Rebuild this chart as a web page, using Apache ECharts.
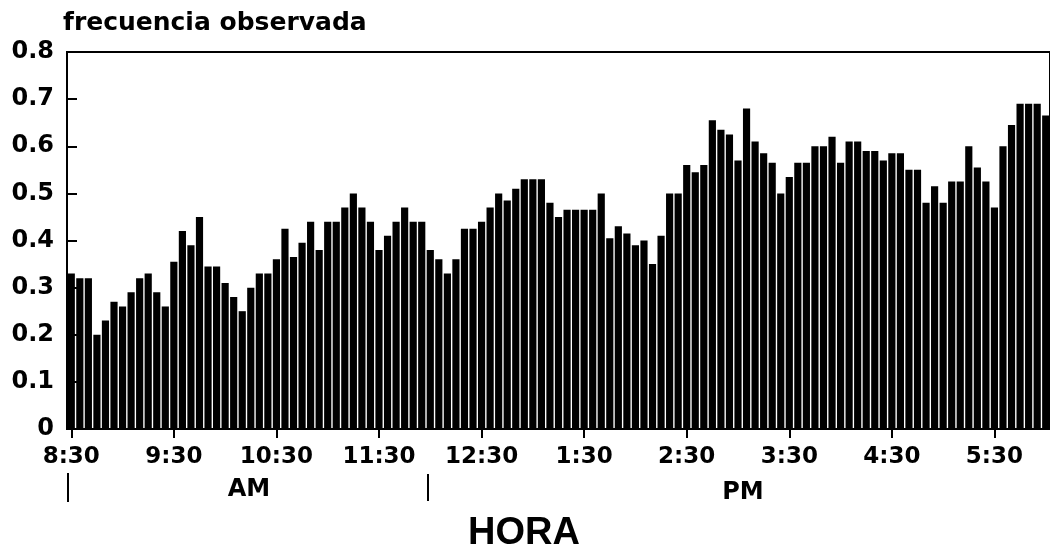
<!DOCTYPE html>
<html>
<head>
<meta charset="utf-8">
<script src="https://cdn.jsdelivr.net/npm/echarts@6/dist/echarts.min.js"></script>
<style>
html,body{margin:0;padding:0;background:#fff;}
#chart{width:1050px;height:551px;}
</style>
</head>
<body>
<div id="chart"></div>
<script>
// 5-minute slots from 8:30 AM to 6:00 PM
const tickLabels = ['8:30','9:30','10:30','11:30','12:30','1:30','2:30','3:30','4:30','5:30'];
const categories = [];
for (let m = 8*60+30; m <= 18*60; m += 5) {
  const h24 = Math.floor(m/60), mm = m % 60;
  const h12 = h24 > 12 ? h24 - 12 : h24;
  categories.push(h12 + ':' + (mm < 10 ? '0' + mm : mm));
}
// observed frequency per slot
const frecuencia = [
  0.33,0.32,0.32,0.20,0.23,0.27,0.26,0.29,0.32,0.33,0.29,0.26,
  0.355,0.42,0.39,0.45,0.345,0.345,0.31,0.28,0.25,0.30,0.33,0.33,
  0.36,0.425,0.365,0.395,0.44,0.38,0.44,0.44,0.47,0.50,0.47,0.44,
  0.38,0.41,0.44,0.47,0.44,0.44,0.38,0.36,0.33,0.36,0.425,0.425,
  0.44,0.47,0.50,0.485,0.51,0.53,0.53,0.53,0.48,0.45,0.465,0.465,
  0.465,0.465,0.50,0.405,0.43,0.415,0.39,0.40,0.35,0.41,0.50,0.50,
  0.56,0.545,0.56,0.655,0.635,0.625,0.57,0.68,0.61,0.585,0.565,0.50,
  0.535,0.565,0.565,0.60,0.60,0.62,0.565,0.61,0.61,0.59,0.59,0.57,
  0.585,0.585,0.55,0.55,0.48,0.515,0.48,0.525,0.525,0.60,0.555,0.525,
  0.47,0.60,0.645,0.69,0.69,0.69,0.665
];
const yTicks = ['0','0.1','0.2','0.3','0.4','0.5','0.6','0.7','0.8'];

const chart = echarts.init(document.getElementById('chart'), null, {renderer:'canvas'});
chart.setOption({
  backgroundColor:'#fff',
  animation:false,
  grid:{left:67, right:-6, top:52, bottom:122, show:true, borderColor:'#000', borderWidth:2, backgroundColor:'transparent'},
  xAxis:{
    type:'category',
    data:categories,
    boundaryGap:true,
    axisLine:{show:true, lineStyle:{color:'#000', width:2}},
    axisTick:{show:true, alignWithLabel:true, length:9, lineStyle:{color:'#000', width:2},
      interval:function(i){return i % 12 === 0;}},
    axisLabel:{
      interval:function(i){return i % 12 === 0;},
      margin:17,
      fontFamily:'DejaVu Sans', fontWeight:'bold', fontSize:23, color:'#000',
      formatter:function(v, i){return tickLabels[i/12] || '';}
    },
    splitLine:{show:false}
  },
  yAxis:{
    type:'value',
    min:0, max:0.8, interval:0.1,
    axisLine:{show:true, lineStyle:{color:'#000', width:2}},
    axisTick:{show:true, inside:true, length:10, lineStyle:{color:'#000', width:2}},
    axisLabel:{
      margin:13,
      fontFamily:'DejaVu Sans', fontWeight:'bold', fontSize:24, color:'#000',
      formatter:function(v){return yTicks[Math.round(v*10)];}
    },
    splitLine:{show:false}
  },
  series:[{
    type:'bar',
    data:frecuencia,
    barCategoryGap:'16%',
    itemStyle:{color:'#000'}
  }],
  graphic:[
    {type:'text', left:63, top:11, style:{text:'frecuencia observada', fontFamily:'DejaVu Sans', fontWeight:'bold', fontSize:25, fill:'#000'}},
    {type:'text', x:249, y:490, style:{text:'AM', fontFamily:'DejaVu Sans', fontWeight:'bold', fontSize:24, fill:'#000', align:'center', verticalAlign:'middle'}},
    {type:'text', x:743, y:493, style:{text:'PM', fontFamily:'DejaVu Sans', fontWeight:'bold', fontSize:24, fill:'#000', align:'center', verticalAlign:'middle'}},
    {type:'text', x:524, y:534, style:{text:'HORA', fontFamily:'Liberation Sans', fontWeight:'bold', fontSize:38, fill:'#000', align:'center', verticalAlign:'middle'}},
    {type:'line', shape:{x1:68, y1:473, x2:68, y2:502}, style:{stroke:'#000', lineWidth:2}},
    {type:'line', shape:{x1:428, y1:474, x2:428, y2:501}, style:{stroke:'#000', lineWidth:2}}
  ]
});
</script>
</body>
</html>
